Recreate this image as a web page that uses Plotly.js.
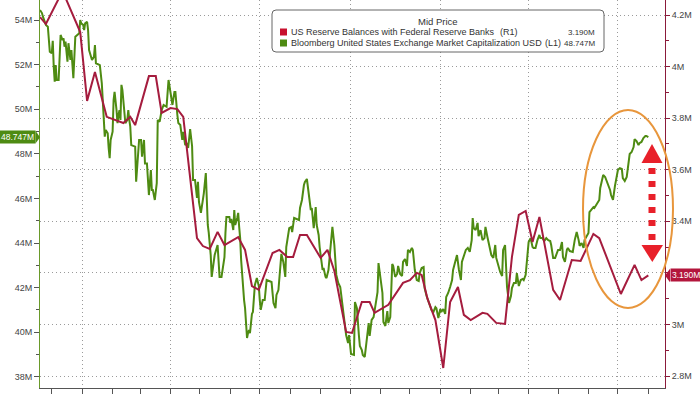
<!DOCTYPE html>
<html>
<head>
<meta charset="utf-8">
<script src="https://cdn.plot.ly/plotly-3.0.1.min.js"></script>
<style>
  html, body { margin: 0; padding: 0; background: #ffffff; }
  #chart { width: 700px; height: 394px; }
</style>
</head>
<body>
<div id="chart"></div>
<script>
// ---------------- DATA ----------------
const redName = "US Reserve Balances with Federal Reserve Banks";
const greenName = "Bloomberg United States Exchange Market Capitalization USD";
const redTag = "(R1)";
const greenTag = "(L1)";
const legendTitle = "Mid Price";

const leftTickVals = [38, 40, 42, 44, 46, 48, 50, 52, 54];
const leftTickText = ["38M", "40M", "42M", "44M", "46M", "48M", "50M", "52M", "54M"];
const rightTickVals = [2.8, 3.0, 3.2, 3.4, 3.6, 3.8, 4.0, 4.2];
const rightTickText = ["2.8M", "3M", "", "3.4M", "3.6M", "3.8M", "4M", "4.2M"];

const redDates = ["2021-11-19","2021-11-25","2021-12-12","2021-12-30","2022-01-06","2022-01-14","2022-01-26","2022-02-12","2022-02-19","2022-02-24","2022-03-10","2022-03-17","2022-03-23","2022-04-01","2022-04-08","2022-04-14","2022-04-28","2022-05-04","2022-05-11","2022-05-19","2022-05-26","2022-06-09","2022-06-16","2022-06-23","2022-06-30","2022-07-14","2022-07-21","2022-07-29","2022-08-04","2022-08-11","2022-08-18","2022-09-01","2022-09-08","2022-09-15","2022-09-27","2022-10-03","2022-10-13","2022-10-21","2022-10-26","2022-11-09","2022-11-24","2022-12-01","2022-12-08","2022-12-13","2022-12-19","2022-12-27","2023-01-04","2023-01-11","2023-01-19","2023-01-25","2023-02-01","2023-02-13","2023-02-18","2023-02-27","2023-03-08","2023-03-15","2023-03-22","2023-03-29","2023-04-05","2023-04-12","2023-04-26","2023-05-03","2023-05-15","2023-05-24","2023-06-06","2023-06-12","2023-07-04","2023-07-18","2023-07-25","2023-08-01"];
const redValues = [4.192,4.165,4.293,4.134,3.867,3.979,3.805,3.781,3.805,3.773,3.963,3.963,3.820,3.839,3.835,3.805,3.335,3.304,3.293,3.359,3.308,3.339,3.289,3.149,3.134,3.277,3.289,3.262,3.262,3.347,3.347,3.258,3.289,3.207,2.971,2.967,3.087,3.087,3.045,3.076,3.161,3.172,3.200,3.192,3.099,3.017,2.831,3.087,3.145,3.037,3.017,3.045,3.041,3.006,3.002,3.262,3.425,3.440,3.320,3.417,3.134,3.095,3.250,3.246,3.351,3.335,3.118,3.231,3.172,3.190];

const greenDates = ["2021-11-19","2021-11-21","2021-11-22","2021-11-25","2021-11-27","2021-11-28","2021-11-29","2021-12-01","2021-12-02","2021-12-03","2021-12-04","2021-12-05","2021-12-06","2021-12-08","2021-12-10","2021-12-12","2021-12-13","2021-12-14","2021-12-15","2021-12-17","2021-12-18","2021-12-20","2021-12-21","2021-12-23","2021-12-25","2021-12-29","2021-12-30","2021-12-31","2022-01-02","2022-01-03","2022-01-04","2022-01-06","2022-01-07","2022-01-08","2022-01-09","2022-01-11","2022-01-13","2022-01-14","2022-01-15","2022-01-19","2022-01-21","2022-01-22","2022-01-23","2022-01-24","2022-01-25","2022-01-27","2022-01-28","2022-01-29","2022-01-30","2022-02-01","2022-02-02","2022-02-03","2022-02-05","2022-02-06","2022-02-07","2022-02-08","2022-02-09","2022-02-10","2022-02-11","2022-02-13","2022-02-14","2022-02-16","2022-02-17","2022-02-18","2022-02-19","2022-02-20","2022-02-24","2022-02-25","2022-02-26","2022-02-28","2022-03-02","2022-03-03","2022-03-05","2022-03-06","2022-03-08","2022-03-09","2022-03-10","2022-03-12","2022-03-13","2022-03-14","2022-03-16","2022-03-18","2022-03-19","2022-03-21","2022-03-23","2022-03-25","2022-03-28","2022-03-30","2022-04-01","2022-04-03","2022-04-05","2022-04-06","2022-04-08","2022-04-09","2022-04-11","2022-04-13","2022-04-14","2022-04-16","2022-04-18","2022-04-19","2022-04-21","2022-04-23","2022-04-24","2022-04-26","2022-04-28","2022-04-29","2022-04-30","2022-05-02","2022-05-04","2022-05-05","2022-05-07","2022-05-08","2022-05-09","2022-05-10","2022-05-12","2022-05-13","2022-05-15","2022-05-16","2022-05-19","2022-05-21","2022-05-23","2022-05-25","2022-05-26","2022-05-27","2022-05-28","2022-05-31","2022-06-01","2022-06-02","2022-06-04","2022-06-05","2022-06-06","2022-06-08","2022-06-09","2022-06-10","2022-06-11","2022-06-12","2022-06-13","2022-06-15","2022-06-16","2022-06-17","2022-06-18","2022-06-19","2022-06-20","2022-06-21","2022-06-23","2022-06-24","2022-06-26","2022-06-28","2022-06-30","2022-07-01","2022-07-02","2022-07-04","2022-07-06","2022-07-08","2022-07-11","2022-07-13","2022-07-14","2022-07-15","2022-07-17","2022-07-18","2022-07-20","2022-07-22","2022-07-23","2022-07-25","2022-07-27","2022-07-28","2022-07-31","2022-08-02","2022-08-03","2022-08-05","2022-08-08","2022-08-10","2022-08-11","2022-08-13","2022-08-15","2022-08-16","2022-08-18","2022-08-19","2022-08-21","2022-08-22","2022-08-23","2022-08-25","2022-08-27","2022-08-28","2022-08-30","2022-08-31","2022-09-03","2022-09-04","2022-09-06","2022-09-07","2022-09-09","2022-09-11","2022-09-12","2022-09-13","2022-09-15","2022-09-16","2022-09-17","2022-09-19","2022-09-21","2022-09-22","2022-09-24","2022-09-26","2022-09-27","2022-09-29","2022-09-30","2022-10-02","2022-10-05","2022-10-06","2022-10-08","2022-10-10","2022-10-11","2022-10-13","2022-10-14","2022-10-16","2022-10-18","2022-10-20","2022-10-21","2022-10-23","2022-10-25","2022-10-27","2022-10-29","2022-10-30","2022-11-01","2022-11-03","2022-11-04","2022-11-06","2022-11-08","2022-11-09","2022-11-11","2022-11-13","2022-11-14","2022-11-16","2022-11-18","2022-11-19","2022-11-21","2022-11-23","2022-11-24","2022-11-26","2022-11-28","2022-11-29","2022-12-01","2022-12-03","2022-12-04","2022-12-06","2022-12-08","2022-12-10","2022-12-11","2022-12-13","2022-12-15","2022-12-16","2022-12-18","2022-12-20","2022-12-21","2022-12-23","2022-12-25","2022-12-27","2022-12-28","2022-12-30","2023-01-01","2023-01-02","2023-01-04","2023-01-06","2023-01-07","2023-01-09","2023-01-11","2023-01-13","2023-01-14","2023-01-16","2023-01-18","2023-01-20","2023-01-22","2023-01-23","2023-01-25","2023-01-27","2023-01-29","2023-01-31","2023-02-02","2023-02-03","2023-02-04","2023-02-06","2023-02-08","2023-02-09","2023-02-11","2023-02-13","2023-02-15","2023-02-16","2023-02-18","2023-02-20","2023-02-22","2023-02-24","2023-02-26","2023-02-27","2023-03-01","2023-03-03","2023-03-05","2023-03-06","2023-03-08","2023-03-09","2023-03-10","2023-03-12","2023-03-14","2023-03-15","2023-03-17","2023-03-19","2023-03-20","2023-03-22","2023-03-24","2023-03-26","2023-03-27","2023-03-29","2023-03-31","2023-04-01","2023-04-03","2023-04-05","2023-04-06","2023-04-08","2023-04-10","2023-04-12","2023-04-13","2023-04-15","2023-04-17","2023-04-19","2023-04-21","2023-04-23","2023-04-24","2023-04-26","2023-04-28","2023-04-30","2023-05-01","2023-05-03","2023-05-05","2023-05-06","2023-05-08","2023-05-10","2023-05-11","2023-05-13","2023-05-16","2023-05-18","2023-05-20","2023-05-22","2023-05-23","2023-05-25","2023-05-27","2023-05-28","2023-05-30","2023-06-01","2023-06-02","2023-06-04","2023-06-06","2023-06-07","2023-06-10","2023-06-12","2023-06-13","2023-06-15","2023-06-16","2023-06-18","2023-06-20","2023-06-21","2023-06-23","2023-06-24","2023-06-26","2023-06-28","2023-06-30","2023-07-01","2023-07-03","2023-07-05","2023-07-06","2023-07-08","2023-07-10","2023-07-12","2023-07-13","2023-07-15","2023-07-17","2023-07-18","2023-07-20","2023-07-22","2023-07-23","2023-07-25","2023-07-27","2023-07-29","2023-07-30","2023-08-01"];
const greenValues = [54.45,54.31,54.15,53.78,53.70,53.18,52.58,52.51,53.07,51.91,51.23,51.98,51.31,51.31,53.33,53.10,53.18,52.80,53.03,52.13,52.96,52.21,52.65,51.39,53.25,53.40,54.00,53.85,53.78,53.55,53.85,53.92,53.55,52.65,52.51,52.21,52.35,52.88,52.06,51.98,51.16,50.41,49.14,48.77,49.07,48.92,48.25,47.80,48.62,48.99,50.41,50.78,49.96,49.37,49.74,49.96,49.52,51.09,50.86,49.96,49.37,49.52,49.96,49.52,49.22,48.39,48.32,46.75,47.50,48.62,48.62,47.87,48.62,47.57,47.57,46.83,46.15,47.27,46.38,46.38,45.93,46.68,49.52,49.44,49.96,50.19,50.11,51.31,50.64,50.19,50.77,50.77,49.74,49.38,49.29,48.62,48.98,48.39,48.48,48.26,49.11,48.35,46.83,46.83,46.02,46.74,45.84,45.35,45.93,46.24,47.14,45.93,44.81,44.45,43.46,42.48,43.10,43.46,43.91,42.48,42.48,43.10,43.37,44.45,45.17,45.17,44.90,45.08,44.58,45.48,44.81,45.12,45.35,44.72,44.22,43.24,42.48,41.44,41.08,40.55,39.74,39.96,40.10,39.96,40.82,40.91,42.12,42.43,42.07,41.44,41.00,41.44,41.44,42.34,42.30,42.25,41.76,41.31,41.08,41.67,41.89,43.15,43.51,43.15,42.48,43.82,44.67,44.72,44.49,45.12,45.08,45.03,45.57,45.93,46.60,46.74,46.87,46.51,46.06,45.48,45.57,44.67,45.61,44.81,44.36,43.82,42.79,42.88,42.48,42.43,42.79,43.78,44.22,44.72,43.91,43.24,42.57,42.21,42.03,41.67,40.91,40.19,39.87,39.52,39.87,39.02,38.98,41.35,41.08,39.87,39.38,39.20,38.98,38.89,39.78,40.41,39.83,40.55,40.68,41.35,41.80,43.10,42.43,41.76,40.46,40.28,40.95,40.41,40.68,43.06,42.97,42.48,42.61,42.97,42.61,42.52,43.15,43.28,42.97,43.69,43.60,43.78,43.69,42.79,42.34,42.30,42.65,42.88,42.92,41.98,41.62,41.35,41.22,41.00,40.91,41.13,41.08,40.64,41.04,40.91,41.04,40.82,41.58,41.76,42.03,42.34,42.79,43.15,43.46,42.79,42.34,43.15,43.42,43.69,43.78,43.60,44.13,45.12,44.67,44.58,44.90,44.31,44.58,44.13,44.22,44.72,44.27,43.91,43.46,43.33,43.91,43.33,43.01,42.70,42.52,43.69,43.91,43.01,42.03,41.31,41.62,41.98,42.21,42.21,42.65,42.07,42.34,42.39,42.34,42.57,43.37,44.04,44.22,43.82,43.78,43.78,44.13,44.36,44.22,44.22,44.09,44.22,44.13,44.09,43.91,43.33,43.33,43.60,43.69,43.69,44.04,43.37,43.15,43.69,43.78,43.64,43.60,44.13,44.49,44.13,43.87,44.00,43.78,44.13,44.31,44.45,45.39,45.48,45.61,45.57,45.79,45.93,46.47,46.78,47.05,46.96,46.74,46.60,46.38,46.15,45.93,46.56,46.96,47.27,47.36,47.32,46.91,46.78,46.96,47.59,47.99,48.08,48.30,48.66,48.57,48.39,48.48,48.53,48.71,48.80,48.80,48.747];

const redLast = 3.190;
const greenLast = 48.747;

// ---------------- STYLE / LAYOUT ----------------
const W = 700, H = 394;
const M = {l: 40, r: 35, t: 0, b: 6};
const PW = W - M.l - M.r, PH = H - M.t - M.b;
const fx = x => (x - M.l) / PW;          // pixel x -> paper
const fy = y => 1 - (y - M.t) / PH;      // pixel y -> paper

const GREEN = '#4e8b12';
const RED_LINE = '#a51c3e';
const RED_SQ = '#c8102e';
const RED_TAG = '#b3163c';
const ARROW = '#e8202a';
const ORANGE = '#e8963c';
const GRID = '#9a9a9a';
const TXT = '#444444';
const FONT = 'Liberation Sans, Arial, sans-serif';

const traces = [
  {x: greenDates, y: greenValues, type: 'scatter', mode: 'lines', name: greenName,
   yaxis: 'y', line: {color: GREEN, width: 2}, hoverinfo: 'skip'},
  {x: redDates, y: redValues, type: 'scatter', mode: 'lines', name: redName,
   yaxis: 'y2', line: {color: RED_LINE, width: 2}, hoverinfo: 'skip'}
];

// rounded rectangle path in paper coordinates built from pixel corners
function roundRect(x0, y0, x1, y1, r) {
  const P = (x, y) => `${fx(x)},${fy(y)}`;
  return `M ${P(x0 + r, y0)} L ${P(x1 - r, y0)} Q ${P(x1, y0)} ${P(x1, y0 + r)} ` +
         `L ${P(x1, y1 - r)} Q ${P(x1, y1)} ${P(x1 - r, y1)} ` +
         `L ${P(x0 + r, y1)} Q ${P(x0, y1)} ${P(x0, y1 - r)} ` +
         `L ${P(x0, y0 + r)} Q ${P(x0, y0)} ${P(x0 + r, y0)} Z`;
}

const shapes = [];
// legend box
shapes.push({type: 'path', xref: 'paper', yref: 'paper', path: roundRect(272, 10, 604, 52, 4),
  fillcolor: '#ffffff', line: {color: '#666', width: 1}, layer: 'above'});
shapes.push({type: 'rect', xref: 'paper', yref: 'paper', x0: fx(280), x1: fx(287), y0: fy(35.5), y1: fy(28.5),
  fillcolor: RED_SQ, line: {width: 0}, layer: 'above'});
shapes.push({type: 'rect', xref: 'paper', yref: 'paper', x0: fx(280), x1: fx(287), y0: fy(46.5), y1: fy(39.5),
  fillcolor: GREEN, line: {width: 0}, layer: 'above'});
// orange ellipse
shapes.push({type: 'circle', xref: 'paper', yref: 'paper', x0: fx(583), x1: fx(673), y0: fy(308), y1: fy(110),
  line: {color: ORANGE, width: 2}, fillcolor: 'rgba(0,0,0,0)', layer: 'above'});
// red dashed double arrow
shapes.push({type: 'path', xref: 'paper', yref: 'paper',
  path: `M ${fx(652)},${fy(144)} L ${fx(662.5)},${fy(163)} L ${fx(641.5)},${fy(163)} Z`,
  fillcolor: ARROW, line: {width: 0}, layer: 'above'});
shapes.push({type: 'path', xref: 'paper', yref: 'paper',
  path: `M ${fx(641.5)},${fy(245)} L ${fx(663)},${fy(245)} L ${fx(652.3)},${fy(262)} Z`,
  fillcolor: ARROW, line: {width: 0}, layer: 'above'});
const arrowDashCentres = [171, 184, 197, 210, 223, 237];
arrowDashCentres.forEach(c => shapes.push({type: 'rect', xref: 'paper', yref: 'paper',
  x0: fx(648.5), x1: fx(655.5), y0: fy(c + 3), y1: fy(c - 3), fillcolor: ARROW, line: {width: 0}, layer: 'above'}));
// value tag pointers
shapes.push({type: 'path', xref: 'paper', yref: 'y',
  path: `M ${fx(40)},${greenLast} L ${fx(35.5)},${greenLast + 0.29} L ${fx(35.5)},${greenLast - 0.29} Z`,
  fillcolor: GREEN, line: {width: 0}, layer: 'above'});
shapes.push({type: 'path', xref: 'paper', yref: 'y2',
  path: `M ${fx(665)},${redLast} L ${fx(670)},${redLast + 0.026} L ${fx(670)},${redLast - 0.026} Z`,
  fillcolor: RED_TAG, line: {width: 0}, layer: 'above'});

const legFont = {family: FONT, size: 9, color: '#333'};
const valFont = {family: FONT, size: 8, color: '#333'};
const annotations = [
  {text: legendTitle, xref: 'paper', yref: 'paper', x: fx(438), y: fy(21), xanchor: 'center', yanchor: 'middle', showarrow: false, font: {family: FONT, size: 9.5, color: '#333'}},
  {text: redName, xref: 'paper', yref: 'paper', x: fx(289), y: fy(32), xanchor: 'left', yanchor: 'middle', showarrow: false, font: legFont},
  {text: redTag, xref: 'paper', yref: 'paper', x: fx(498), y: fy(32), xanchor: 'left', yanchor: 'middle', showarrow: false, font: legFont},
  {text: redLast.toFixed(3) + 'M', xref: 'paper', yref: 'paper', x: fx(597), y: fy(32), xanchor: 'right', yanchor: 'middle', showarrow: false, font: valFont},
  {text: greenName, xref: 'paper', yref: 'paper', x: fx(289), y: fy(43), xanchor: 'left', yanchor: 'middle', showarrow: false, font: legFont},
  {text: greenTag, xref: 'paper', yref: 'paper', x: fx(543), y: fy(43), xanchor: 'left', yanchor: 'middle', showarrow: false, font: legFont},
  {text: greenLast.toFixed(3) + 'M', xref: 'paper', yref: 'paper', x: fx(597), y: fy(43), xanchor: 'right', yanchor: 'middle', showarrow: false, font: valFont},
  // axis value tags
  {text: greenLast.toFixed(3) + 'M', xref: 'paper', yref: 'y', x: fx(35.5), y: greenLast, xanchor: 'right', yanchor: 'middle',
   showarrow: false, bgcolor: GREEN, borderpad: 1, font: {family: FONT, size: 8.5, color: '#ffffff'}},
  {text: redLast.toFixed(3) + 'M', xref: 'paper', yref: 'y2', x: fx(669.5), y: redLast, xanchor: 'left', yanchor: 'middle',
   showarrow: false, bgcolor: RED_TAG, borderpad: 1, font: {family: FONT, size: 8.5, color: '#ffffff'}}
];

const layout = {
  width: W, height: H,
  margin: {l: M.l, r: M.r, t: M.t, b: M.b, pad: 0},
  paper_bgcolor: '#ffffff', plot_bgcolor: '#ffffff',
  showlegend: false,
  font: {family: FONT, size: 9, color: TXT},
  xaxis: {
    type: 'date', range: ['2021-11-19', '2023-08-18'],
    tick0: '2022-01-01', dtick: 'M3', ticks: 'outside', ticklen: 5, tickcolor: '#555',
    showticklabels: false, showline: true, linecolor: '#555', linewidth: 1,
    showgrid: true, gridcolor: GRID, griddash: '1px,3px', gridwidth: 1, zeroline: false,
    minor: {tick0: '2022-01-01', dtick: 'M1', ticks: 'outside', ticklen: 5, tickcolor: '#555', showgrid: false}
  },
  yaxis: {
    range: [37.498, 54.897], tickmode: 'array', tickvals: leftTickVals, ticktext: leftTickText,
    ticks: 'outside', ticklen: 5, tickcolor: '#555', tickfont: {family: FONT, size: 9, color: TXT},
    showline: true, linecolor: '#6a9a2a', linewidth: 1, showgrid: false, zeroline: false,
    minor: {tick0: 37, dtick: 1, ticks: 'outside', ticklen: 3, tickcolor: '#555', showgrid: false}
  },
  yaxis2: {
    overlaying: 'y', side: 'right', range: [2.7535, 4.2582],
    tickmode: 'array', tickvals: rightTickVals, ticktext: rightTickText,
    ticks: 'outside', ticklen: 4, tickcolor: '#8b1a3a', tickfont: {family: FONT, size: 9, color: TXT},
    showline: true, linecolor: '#8b1a3a', linewidth: 1,
    showgrid: true, gridcolor: GRID, griddash: '1px,3px', gridwidth: 1, zeroline: false,
    minor: {tick0: 2.7, dtick: 0.1, ticks: 'outside', ticklen: 3, tickcolor: '#8b1a3a', showgrid: false}
  },
  shapes: shapes,
  annotations: annotations
};

Plotly.newPlot('chart', traces, layout, {displayModeBar: false, staticPlot: true});
</script>
</body>
</html>
